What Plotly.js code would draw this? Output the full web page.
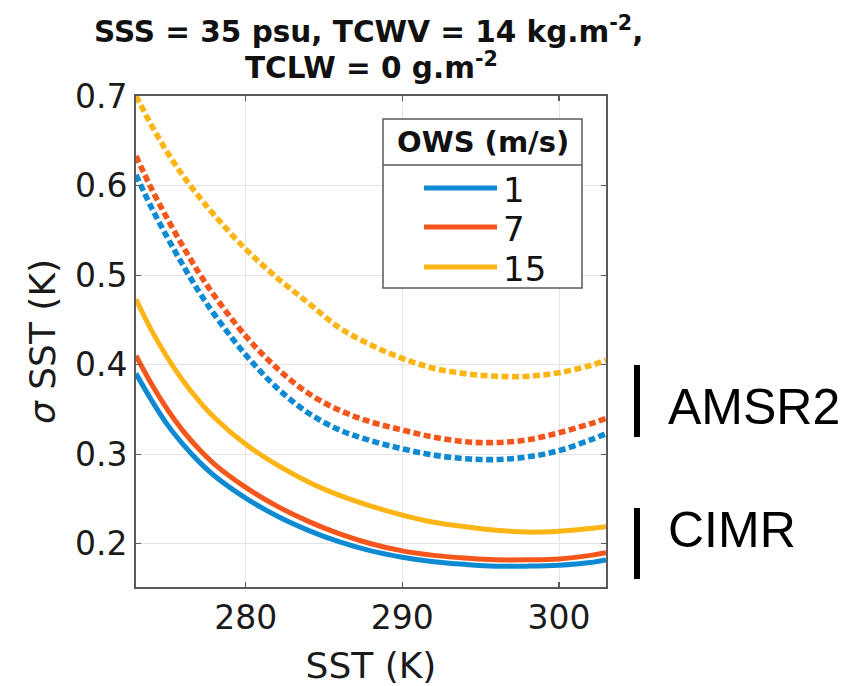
<!DOCTYPE html>
<html>
<head>
<meta charset="utf-8">
<script src="https://cdn.plot.ly/plotly-3.0.1.min.js"></script>
<style>
  html, body { margin: 0; padding: 0; background: #fff; }
  #chart { width: 853px; height: 686px; }
</style>
</head>
<body>
<div id="chart"></div>
<script>
// Sea surface temperature grid (K)
const sst = [273, 274, 275, 276, 277, 278, 280, 282, 284, 286, 288, 290, 292, 294, 296, 298, 300, 302, 303];

// Ocean wind speed cases (m/s)
const ows = [1, 7, 15];

// SST retrieval uncertainty (K), CIMR (solid curves)
const cimrOws1  = [0.390, 0.360, 0.333, 0.311, 0.292, 0.276, 0.251, 0.231, 0.215, 0.202, 0.192, 0.185, 0.180, 0.177, 0.175, 0.175, 0.176, 0.179, 0.182];
const cimrOws7  = [0.410, 0.378, 0.350, 0.326, 0.306, 0.289, 0.263, 0.242, 0.225, 0.211, 0.200, 0.192, 0.187, 0.184, 0.182, 0.182, 0.183, 0.187, 0.190];
const cimrOws15 = [0.473, 0.438, 0.408, 0.382, 0.360, 0.341, 0.311, 0.288, 0.269, 0.254, 0.242, 0.232, 0.224, 0.219, 0.215, 0.213, 0.214, 0.217, 0.219];

// SST retrieval uncertainty (K), AMSR2 (dotted curves)
const amsrOws1  = [0.612, 0.575, 0.542, 0.511, 0.482, 0.456, 0.411, 0.374, 0.346, 0.327, 0.315, 0.306, 0.299, 0.295, 0.294, 0.297, 0.304, 0.316, 0.323];
const amsrOws7  = [0.633, 0.596, 0.563, 0.532, 0.503, 0.477, 0.432, 0.396, 0.368, 0.349, 0.336, 0.327, 0.319, 0.314, 0.313, 0.316, 0.324, 0.334, 0.340];
const amsrOws15 = [0.700, 0.667, 0.637, 0.611, 0.588, 0.567, 0.529, 0.497, 0.469, 0.441, 0.422, 0.407, 0.396, 0.390, 0.387, 0.387, 0.391, 0.399, 0.405];

const yTicks = [0.2, 0.3, 0.4, 0.5, 0.6, 0.7];
const xTicks = [280, 290, 300];

const colors = ['#0e8ad2', '#f4561c', '#fdb515'];
const cimrSeries = [cimrOws1, cimrOws7, cimrOws15];
const amsrSeries = [amsrOws1, amsrOws7, amsrOws15];

// plot frame in pixels (used for placing the hand-built legend and side labels)
const W = 853, H = 686;
const frame = { l: 136, r: 247, t: 96, b: 99 };
const pw = W - frame.l - frame.r, ph = H - frame.t - frame.b;
const px = x => (x - frame.l) / pw;
const py = y => (H - frame.b - y) / ph;

const traces = [];
amsrSeries.forEach((vals, i) => {
  traces.push({
    x: sst, y: vals, type: 'scatter', mode: 'lines',
    name: 'AMSR2 ' + ows[i], showlegend: false,
    line: { color: colors[i], width: 5.6, dash: '7px,3.5px', shape: 'spline', smoothing: 1 },
    hoverinfo: 'skip'
  });
});
cimrSeries.forEach((vals, i) => {
  traces.push({
    x: sst, y: vals, type: 'scatter', mode: 'lines',
    name: 'CIMR ' + ows[i], showlegend: false,
    line: { color: colors[i], width: 5, shape: 'spline', smoothing: 1 },
    hoverinfo: 'skip'
  });
});

const shapes = [];
const annotations = [];

// title, two centred bold lines
annotations.push({ xref: 'paper', yref: 'paper', x: 0.495, y: py(51),
  text: '<b>SSS = 35 psu, TCWV = 14 kg.m<sup>-2</sup>,</b>', showarrow: false,
  xanchor: 'center', yanchor: 'bottom',
  font: { family: 'DejaVu Sans', size: 29.5, color: '#111' } });
annotations.push({ xref: 'paper', yref: 'paper', x: 0.5, y: py(87),
  text: '<b>TCLW = 0 g.m<sup>-2</sup></b>', showarrow: false,
  xanchor: 'center', yanchor: 'bottom',
  font: { family: 'DejaVu Sans', size: 29.5, color: '#111' } });

// legend box with header separator
const lg = { x0: 383, x1: 582, y0: 119, y1: 288, sep: 165 };
shapes.push({ type: 'rect', xref: 'paper', yref: 'paper',
  x0: px(lg.x0), x1: px(lg.x1), y0: py(lg.y1), y1: py(lg.y0),
  line: { color: '#5a5a5a', width: 1.5 }, fillcolor: '#ffffff', layer: 'above' });
shapes.push({ type: 'line', xref: 'paper', yref: 'paper',
  x0: px(lg.x0), x1: px(lg.x1), y0: py(lg.sep), y1: py(lg.sep),
  line: { color: '#5a5a5a', width: 1.5 }, layer: 'above' });
annotations.push({ xref: 'paper', yref: 'paper', x: px(483), y: py(142),
  text: '<b>OWS (m/s)</b>', showarrow: false, xanchor: 'center', yanchor: 'middle',
  font: { family: 'DejaVu Sans', size: 29, color: '#111' } });
const entryY = [188, 227, 267];
ows.forEach((w, i) => {
  shapes.push({ type: 'line', xref: 'paper', yref: 'paper',
    x0: px(424), x1: px(497), y0: py(entryY[i]), y1: py(entryY[i]),
    line: { color: colors[i], width: 5 }, layer: 'above' });
  annotations.push({ xref: 'paper', yref: 'paper', x: px(501), y: py(entryY[i] + 2),
    text: String(w), showarrow: false, xanchor: 'left', yanchor: 'middle',
    font: { family: 'DejaVu Sans', size: 34, color: '#111' } });
});

// instrument range markers to the right of the axes
const sideLabels = [
  { text: 'AMSR2', bar: [365, 437], ty: 407 },
  { text: 'CIMR', bar: [508, 579], ty: 530 }
];
sideLabels.forEach(s => {
  shapes.push({ type: 'line', xref: 'paper', yref: 'paper',
    x0: px(637), x1: px(637), y0: py(s.bar[0]), y1: py(s.bar[1]),
    line: { color: '#000', width: 6 } });
  annotations.push({ xref: 'paper', yref: 'paper', x: px(666), y: py(s.ty),
    text: s.text, showarrow: false, xanchor: 'left', yanchor: 'middle',
    font: { family: 'Liberation Sans, Arial', size: 50, color: '#000' } });
});

const axisCommon = {
  showline: true, mirror: 'ticks', linecolor: '#5a5a5a', linewidth: 2,
  ticks: 'inside', ticklen: 5, tickwidth: 1.2, tickcolor: '#5a5a5a',
  showgrid: true, gridcolor: '#e4e4e4', gridwidth: 1, zeroline: false,
  tickfont: { family: 'DejaVu Sans', size: 33, color: '#1a1a1a' }
};

const layout = {
  width: W, height: H,
  margin: frame,
  paper_bgcolor: '#fff', plot_bgcolor: '#fff',
  showlegend: false,
  xaxis: Object.assign({}, axisCommon, {
    range: [273, 303], tickvals: xTicks, ticktext: xTicks.map(String),
    title: { text: 'SST (K)', font: { family: 'DejaVu Sans', size: 36, color: '#1a1a1a' }, standoff: 19 },
    automargin: false
  }),
  yaxis: Object.assign({}, axisCommon, {
    range: [0.1517, 0.7], tickvals: yTicks, ticktext: yTicks.map(v => v.toFixed(1)),
    title: { text: '<i>σ</i> SST (K)', font: { family: 'DejaVu Sans', size: 36, color: '#1a1a1a' }, standoff: 8 },
    automargin: false
  }),
  shapes: shapes,
  annotations: annotations
};

Plotly.newPlot('chart', traces, layout, { staticPlot: true, displayModeBar: false });
</script>
</body>
</html>
